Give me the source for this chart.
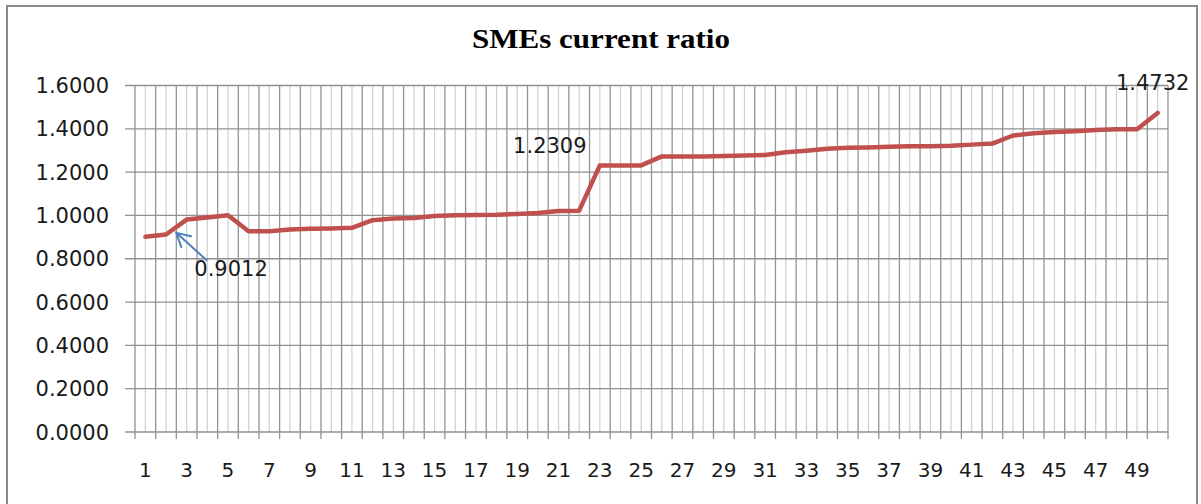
<!DOCTYPE html>
<html>
<head>
<meta charset="utf-8">
<script src="https://cdn.jsdelivr.net/npm/d3@7"></script>
<style>
  body { margin: 0; background: #fff; }
  text { font-family: 'DejaVu Sans', Verdana, sans-serif; fill: #1a1a1a; }
</style>
</head>
<body>
<div id="chart"></div>
<script>
var categories = d3.range(1, 51)
var values = [0.9012, 0.912, 0.981, 0.990, 1.0005, 0.927, 0.927, 0.935, 0.938, 0.940,
  0.943, 0.978, 0.986, 0.988, 0.997, 1.0005, 1.002, 1.003, 1.0065, 1.011,
  1.020, 1.022, 1.2309, 1.2309, 1.2309, 1.2725, 1.2725, 1.2725, 1.274, 1.277,
  1.279, 1.292, 1.299, 1.308, 1.312, 1.314, 1.317, 1.319, 1.320, 1.322,
  1.327, 1.332, 1.369, 1.380, 1.385, 1.389, 1.394, 1.398, 1.398, 1.4732]
var yTicks = [0, 0.2, 0.4, 0.6, 0.8, 1.0, 1.2, 1.4, 1.6]
var xLabels = categories.filter(d => d % 2 === 1)
// labelled points: index into values
var labelled = [22, 49]
var arrowPoint = 0

var width = 1201
var height = 504
var margin = { top: 85.5, left: 135, right: 33, bottom: 72 }

var svg = d3
  .select('#chart')
  .append('svg')
  .attr('width', width)
  .attr('height', height)

// chart border
svg
  .append('rect')
  .attr('x', 7)
  .attr('y', 6)
  .attr('width', 1190)
  .attr('height', 510)
  .attr('fill', 'none')
  .attr('stroke', '#8a8a8a')
  .attr('stroke-width', 2)

svg
  .append('text')
  .attr('x', 601)
  .attr('y', 48)
  .attr('text-anchor', 'middle')
  .attr('textLength', 258)
  .attr('lengthAdjust', 'spacingAndGlyphs')
  .style('font-family', "'Liberation Serif', 'Times New Roman', serif")
  .style('font-weight', 'bold')
  .style('font-size', '27px')
  .style('fill', '#000')
  .text('SMEs current ratio')

var x = d3
  .scaleBand()
  .domain(categories)
  .range([margin.left, width - margin.right])

var y = d3
  .scaleLinear()
  .domain([0, 1.6])
  .range([height - margin.bottom, margin.top])

var bw = x.bandwidth()
var x0 = margin.left
var x1 = width - margin.right

// minor vertical gridlines at category centres
svg
  .append('g')
  .selectAll('line')
  .data(categories)
  .enter()
  .append('line')
  .attr('x1', d => x(d) + bw / 2)
  .attr('x2', d => x(d) + bw / 2)
  .attr('y1', y(1.6))
  .attr('y2', y(0))
  .attr('stroke', '#cfcfcf')
  .attr('stroke-width', 1.2)

// major vertical gridlines at category boundaries, with ticks below
var bounds = categories.map(d => x(d)).concat([x1])
svg
  .append('g')
  .selectAll('line')
  .data(bounds)
  .enter()
  .append('line')
  .attr('x1', d => d)
  .attr('x2', d => d)
  .attr('y1', y(1.6))
  .attr('y2', y(0) + 7)
  .attr('stroke', '#939393')
  .attr('stroke-width', 1.3)

// horizontal gridlines
svg
  .append('g')
  .selectAll('line')
  .data(yTicks)
  .enter()
  .append('line')
  .attr('x1', x0 - 10)
  .attr('x2', x1)
  .attr('y1', d => y(d))
  .attr('y2', d => y(d))
  .attr('stroke', '#909090')
  .attr('stroke-width', 1.3)

svg
  .append('g')
  .selectAll('text')
  .data(yTicks)
  .enter()
  .append('text')
  .attr('x', 109)
  .attr('y', d => y(d))
  .attr('dy', '0.36em')
  .attr('text-anchor', 'end')
  .style('font-size', '21px')
  .text(d => d3.format('.4f')(d))

svg
  .append('g')
  .selectAll('text')
  .data(xLabels)
  .enter()
  .append('text')
  .attr('x', d => x(d) + bw / 2)
  .attr('y', 477)
  .attr('text-anchor', 'middle')
  .style('font-size', '20px')
  .text(d => d)

var line = d3
  .line()
  .x((d, i) => x(categories[i]) + bw / 2)
  .y(d => y(d))

svg
  .append('path')
  .datum(values)
  .attr('d', line)
  .attr('fill', 'none')
  .attr('stroke', '#c0504d')
  .attr('stroke-width', 4.5)
  .attr('stroke-linejoin', 'round')
  .attr('stroke-linecap', 'round')

// data labels
var labelOffsets = { 22: [-50, -12], 49: [-5, -23] }
svg
  .append('g')
  .selectAll('text')
  .data(labelled)
  .enter()
  .append('text')
  .attr('x', i => x(categories[i]) + bw / 2 + labelOffsets[i][0])
  .attr('y', i => y(values[i]) + labelOffsets[i][1])
  .attr('text-anchor', 'middle')
  .style('font-size', '21px')
  .text(i => d3.format('.4f')(values[i]))

// callout with arrow for the minimum
var headX = x(categories[arrowPoint]) + bw * 2
var headY = y(values[arrowPoint]) - 4
var tailX = headX + 31
var tailY = headY + 28
var ang = Math.atan2(tailY - headY, tailX - headX)
var barb = 16
var spread = 0.5
svg
  .append('path')
  .attr('d',
    'M' + tailX + ',' + tailY + 'L' + headX + ',' + headY +
    'M' + (headX + barb * Math.cos(ang - spread)) + ',' + (headY + barb * Math.sin(ang - spread)) +
    'L' + headX + ',' + headY +
    'L' + (headX + barb * Math.cos(ang + spread)) + ',' + (headY + barb * Math.sin(ang + spread)))
  .attr('fill', 'none')
  .attr('stroke', '#4f81bd')
  .attr('stroke-width', 2)

svg
  .append('text')
  .attr('x', tailX - 13)
  .attr('y', tailY + 15)
  .style('font-size', '21px')
  .text(d3.format('.4f')(values[arrowPoint]))
</script>
</body>
</html>
